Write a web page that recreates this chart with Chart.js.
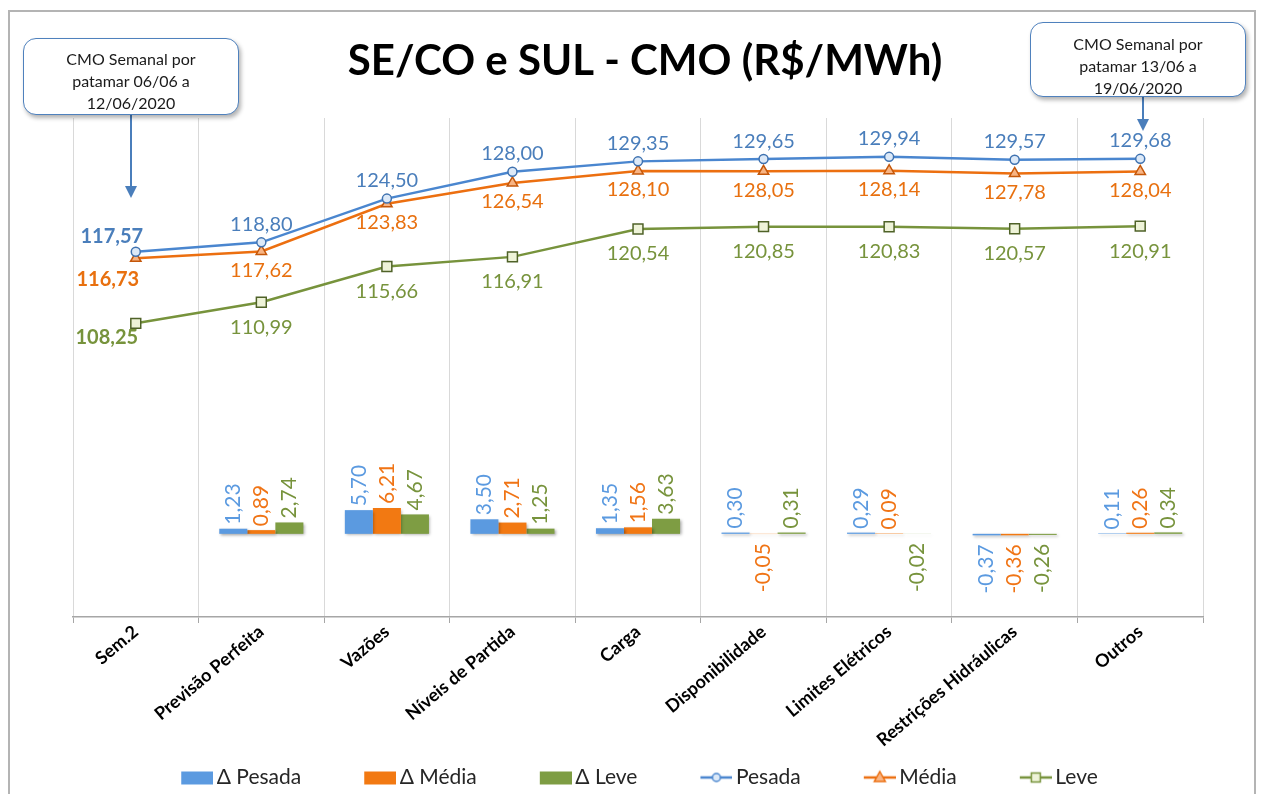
<!DOCTYPE html>
<html>
<head>
<meta charset="utf-8">
<script src="https://cdn.jsdelivr.net/npm/chart.js@4"></script>
<style>
html, body { margin: 0; padding: 0; background: #fff; overflow: hidden; }
#wrap { position: relative; width: 1267px; height: 798px; }
#frame { position: absolute; left: 8px; top: 10px; width: 1248px; height: 900px; border: 2px solid #b4b4b4; box-sizing: border-box; }
#cmo { position: absolute; left: 0; top: 0; }
#arrows { position: absolute; left: 0; top: 0; }
.note { position: absolute; box-sizing: border-box; border: 1.5px solid #4f81bd; border-radius: 13px; background: #fff;
        box-shadow: 2px 3px 4px rgba(0,0,0,0.3); font: 16px Lato, sans-serif; color: #1a1a1a; text-align: center; line-height: 22px; }
</style>
</head>
<body>
<div id="wrap">
  <div id="frame"></div>
  <canvas id="cmo" width="1267" height="798"></canvas>
  <svg id="arrows" width="1267" height="798">
    <line x1="131" y1="115" x2="131" y2="188" stroke="#4a7ebb" stroke-width="2"/>
    <polygon points="125,186 137,186 131,198" fill="#4a7ebb"/>
    <line x1="1143" y1="96" x2="1143" y2="121" stroke="#4a7ebb" stroke-width="2"/>
    <polygon points="1137,119 1149,119 1143,131" fill="#4a7ebb"/>
  </svg>
  <div class="note" style="left:23px;top:38px;width:216px;height:77px;padding-top:9px;">CMO Semanal por<br>patamar 06/06 a<br>12/06/2020</div>
  <div class="note" style="left:1030px;top:22px;width:216px;height:75px;padding-top:10px;">CMO Semanal por<br>patamar 13/06 a<br>19/06/2020</div>
</div>

<script>
// categorias e valores
var categories = ['Sem.2', 'Previsão Perfeita', 'Vazões', 'Níveis de Partida', 'Carga',
                  'Disponibilidade', 'Limites Elétricos', 'Restrições Hidráulicas', 'Outros'];

var pesada = [117.57, 118.80, 124.50, 128.00, 129.35, 129.65, 129.94, 129.57, 129.68];
var media  = [116.73, 117.62, 123.83, 126.54, 128.10, 128.05, 128.14, 127.78, 128.04];
var leve   = [108.25, 110.99, 115.66, 116.91, 120.54, 120.85, 120.83, 120.57, 120.91];

var deltaPesada = [null, 1.23, 5.70, 3.50, 1.35, 0.30, 0.29, -0.37, 0.11];
var deltaMedia  = [null, 0.89, 6.21, 2.71, 1.56, -0.05, 0.09, -0.36, 0.26];
var deltaLeve   = [null, 2.74, 4.67, 1.25, 3.63, 0.31, -0.02, -0.26, 0.34];

var FONT = 'Lato';

// legenda: caixa larga (68) com o icone na parte direita, colado no texto
var iconBox = 68;
var legendPad = 20;
var legendFont = 21;

function legendIcon(kind, color, fill, marker) {
  var c = document.createElement('canvas');
  c.width = iconBox + 14; c.height = 20;
  var g = c.getContext('2d');
  var x0 = c.width - 32;
  if (kind === 'bar') {
    g.fillStyle = color;
    g.fillRect(x0, 4, 32, 13);
    return c;
  }
  var mx = x0 + 16;
  g.strokeStyle = color;
  g.lineWidth = 2.5;
  g.beginPath(); g.moveTo(x0, 10); g.lineTo(x0 + 32, 10); g.stroke();
  g.fillStyle = fill;
  g.lineWidth = 1.5;
  g.beginPath();
  if (marker === 'circle') {
    g.arc(mx, 10, 4, 0, Math.PI * 2);
  } else if (marker === 'triangle') {
    g.moveTo(mx, 4); g.lineTo(mx + 5.5, 14); g.lineTo(mx - 5.5, 14); g.closePath();
  } else {
    g.rect(mx - 4.5, 5.5, 9, 9);
  }
  g.fill(); g.stroke();
  return c;
}

// rotulos de valores
var valueLabels = {
  id: 'valueLabels',
  afterDatasetsDraw: function(chart) {
    var ctx = chart.ctx;
    chart.data.datasets.forEach(function(ds, i) {
      var meta = chart.getDatasetMeta(i);
      meta.data.forEach(function(el, j) {
        var v = ds.data[j];
        if (v === null || v === undefined) return;
        var txt = v.toFixed(2).replace('.', ',');
        ctx.save();
        ctx.fillStyle = ds.labelColor;
        if (ds.type === 'line') {
          var first = j === 0;
          ctx.font = (first ? 'bold ' : '') + '20px ' + FONT;
          ctx.textAlign = 'center';
          ctx.textBaseline = 'middle';
          var off = first ? ds.firstOffset : [0, ds.labelDy];
          ctx.fillText(txt, el.x + off[0], el.y + off[1]);
        } else {
          ctx.font = '21px ' + FONT;
          ctx.textBaseline = 'middle';
          if (v >= 0) {
            ctx.translate(el.x, el.y - 4);
            ctx.textAlign = 'left';
          } else {
            ctx.translate(el.x, el.y + 9);
            ctx.textAlign = 'right';
          }
          ctx.rotate(-Math.PI / 2);
          ctx.fillText(txt, 0, 0);
        }
        ctx.restore();
      });
    });
  }
};

// sombra leve nas barras
var barShadow = {
  id: 'barShadow',
  beforeDatasetDraw: function(chart, args) {
    if (args.meta.type !== 'bar') return;
    var ctx = chart.ctx;
    ctx.save();
    ctx.shadowColor = 'rgba(0,0,0,0.35)';
    ctx.shadowBlur = 3;
    ctx.shadowOffsetX = 1.5;
    ctx.shadowOffsetY = 1.5;
  },
  afterDatasetDraw: function(chart, args) {
    if (args.meta.type !== 'bar') return;
    chart.ctx.restore();
  }
};

// ajuste horizontal do titulo e da legenda
var nudgeBoxes = {
  id: 'nudgeBoxes',
  afterLayout: function(chart) {
    if (chart.legend) { chart.legend.left -= 20; chart.legend.right -= 20; }
    if (chart.titleBlock) { chart.titleBlock.left += 7; chart.titleBlock.right += 7; }
  }
};

var ctx = document.getElementById('cmo');
var cmoChart = new Chart(ctx, {
  type: 'bar',
  data: {
    labels: categories,
    datasets: [
      { type: 'bar', label: 'Δ Pesada', data: deltaPesada, yAxisID: 'yBar', backgroundColor: '#5b9ae0',
        labelColor: '#5b9ae0', legendIcon: legendIcon('bar', '#5b9ae0') },
      { type: 'bar', label: 'Δ Média', data: deltaMedia, yAxisID: 'yBar', backgroundColor: '#f27912',
        labelColor: '#f07415', legendIcon: legendIcon('bar', '#f27912') },
      { type: 'bar', label: 'Δ Leve', data: deltaLeve, yAxisID: 'yBar', backgroundColor: '#7e9d43',
        labelColor: '#77933c', legendIcon: legendIcon('bar', '#7e9d43') },
      { type: 'line', label: 'Pesada', data: pesada, yAxisID: 'yLine', borderColor: '#4a86cf', borderWidth: 2.5,
        pointStyle: 'circle', pointRadius: 4.5, pointBackgroundColor: '#dce9f8', pointBorderColor: '#3f72b0', pointBorderWidth: 1.5,
        tension: 0, labelColor: '#4a7ebb', labelDy: -18, firstOffset: [-24, -15],
        legendIcon: legendIcon('line', '#4a86cf', '#dce9f8', 'circle') },
      { type: 'line', label: 'Média', data: media, yAxisID: 'yLine', borderColor: '#ec6f10', borderWidth: 2.5,
        pointStyle: 'triangle', pointRadius: 6, pointBackgroundColor: '#f8b483', pointBorderColor: '#c4570a', pointBorderWidth: 1.5,
        tension: 0, labelColor: '#e8700f', labelDy: 19, firstOffset: [-28, 21],
        legendIcon: legendIcon('line', '#ec6f10', '#f8b483', 'triangle') },
      { type: 'line', label: 'Leve', data: leve, yAxisID: 'yLine', borderColor: '#77933c', borderWidth: 2.5,
        pointStyle: 'rect', pointRadius: 7, pointBackgroundColor: '#eef3d8', pointBorderColor: '#4f6228', pointBorderWidth: 1.5,
        tension: 0, labelColor: '#77933c', labelDy: 25, firstOffset: [-29, 14],
        legendIcon: legendIcon('line', '#77933c', '#eef3d8', 'rect') }
    ]
  },
  options: {
    responsive: false,
    animation: false,
    layout: { padding: { left: 73, right: 64, top: 10, bottom: 0 } },
    datasets: { bar: { categoryPercentage: 0.67, barPercentage: 1.0 } },
    plugins: {
      title: {
        display: true,
        text: 'SE/CO e SUL - CMO (R$/MWh)',
        color: '#000',
        font: { family: FONT, size: 42, weight: 'bold' },
        padding: { top: 26, bottom: 31.6 }
      },
      legend: {
        position: 'bottom',
        labels: {
          usePointStyle: true,
          pointStyleWidth: iconBox,
          padding: legendPad,
          color: '#262626',
          font: { family: FONT, size: legendFont },
          generateLabels: function(chart) {
            return chart.data.datasets.map(function(ds, i) {
              return { text: ds.label, pointStyle: ds.legendIcon, fillStyle: 'rgba(0,0,0,0)',
                       strokeStyle: 'rgba(0,0,0,0)', lineWidth: 0, hidden: false, datasetIndex: i, fontColor: '#262626' };
            });
          }
        }
      },
      tooltip: { enabled: false }
    },
    scales: {
      x: {
        offset: true,
        grid: { offset: true, color: '#d9d9d9', tickColor: '#a6a6a6', tickLength: 6, lineWidth: 1 },
        border: { color: '#a6a6a6', width: 1.5 },
        ticks: {
          autoSkip: false, minRotation: 40, maxRotation: 40, padding: -2,
          color: '#000', font: { family: FONT, size: 18, weight: 'bold' }
        },
        afterFit: function(scale) {
          scale.height = 798 - (legendFont + legendPad + 10) - 617;
        }
      },
      yBar: { type: 'linear', position: 'left', display: false, min: -20, max: 100 },
      yLine: { type: 'linear', position: 'right', display: false, min: 70, max: 135 }
    }
  },
  plugins: [barShadow, valueLabels, nudgeBoxes]
});
</script>
</body>
</html>
